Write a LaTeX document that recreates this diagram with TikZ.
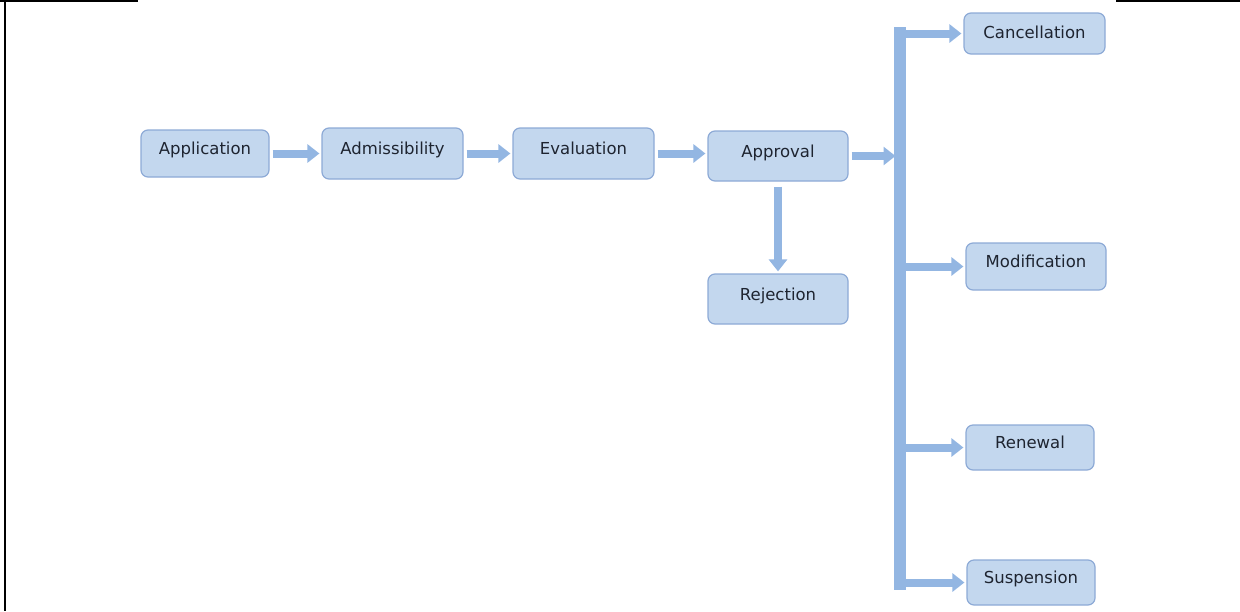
\documentclass[tikz,border=0pt]{standalone}
\usepackage{fontspec}
\setmainfont{DejaVu Sans}
\usepackage{tikz}
\usetikzlibrary{positioning, arrows.meta}

\definecolor{boxfill}{HTML}{C3D7EE}
\definecolor{boxline}{HTML}{8DAAD6}
\definecolor{flow}{HTML}{93B6E2}
\definecolor{txt}{HTML}{1E2430}

\begin{document}
\begin{tikzpicture}[x=1pt, y=-1pt,
    stage/.style={rectangle, rounded corners=7pt, draw=boxline, line width=1.2pt, fill=boxfill, text=txt,
        font=\fontsize{16.5}{18}\selectfont, minimum width=141pt, minimum height=50pt,
        text height=14pt, text depth=12pt},
    flowarrow/.style={draw=flow, line width=8pt, -{Triangle[width=18pt, length=12pt]}, shorten <=3pt, shorten >=2pt},
    bus/.style={draw=flow, line width=12pt}]
    \useasboundingbox (0,0) rectangle (1240,611);

    % frame lines of the page
    \draw[line width=2pt] (5,0) -- (5,611);
    \draw[line width=2pt] (0,1) -- (138,1);
    \draw[line width=2pt] (1116,1) -- (1240,1);

    \node[stage, minimum width=128pt, minimum height=47pt] (app) at (205,153.5) {Application};
    \node[stage, minimum height=51pt] (adm) [right=51.8pt of app] {Admissibility};
    \node[stage, minimum height=51pt] (eval) [right=48.8pt of adm] {Evaluation};
    \node[stage, minimum width=140pt] (appr) [right=52.8pt of eval, yshift=-2.5pt] {Approval};
    \node[stage, minimum width=140pt] (rej) [below=91.8pt of appr] {Rejection};

    \node[stage, minimum height=41pt, text depth=5pt] (canc) at (1034.5,33.5) {Cancellation};
    \node[stage, minimum width=140pt, minimum height=47pt] (modif) at (1036,266.5) {Modification};
    \node[stage, minimum width=128pt, minimum height=45pt] (renew) at (1030,447.5) {Renewal};
    \node[stage, minimum width=128pt, minimum height=45pt] (susp) at (1031,582.5) {Suspension};

    \draw[flowarrow] (app) -- (adm);
    \draw[flowarrow] (adm) -- (eval);
    \draw[flowarrow] (eval.east) -- (eval.east -| appr.west);
    \draw[flowarrow, shorten <=5pt] (appr) -- (rej);

    % vertical bus with the outcomes
    \coordinate (bustop) at (899.5,27);
    \coordinate (busbot) at (899.5,590);
    \draw[bus] (bustop) -- (busbot);
    \draw[flowarrow, shorten >=4pt] (appr) -- (appr -| bustop);
    \foreach \n in {canc, modif, renew, susp} {
        \draw[flowarrow, shorten <=0pt] (bustop |- \n) -- (\n);
    }
\end{tikzpicture}
\end{document}
